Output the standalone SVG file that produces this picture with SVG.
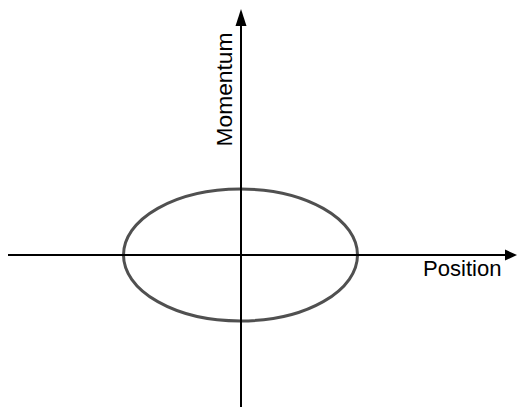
<svg xmlns="http://www.w3.org/2000/svg" width="518" height="407" viewBox="0 0 518 407">
  <style>
    .axis { stroke: #000; stroke-width: 2; fill: none; }
    .head { fill: #000; stroke: none; }
    .curve { stroke: #505050; stroke-width: 3; fill: none; }
    .label { font-family: "Liberation Sans", Arial, sans-serif; font-size: 22px; fill: #000; }
  </style>
  <rect width="518" height="407" fill="#fff"/>
  <g id="ellipse">
    <ellipse class="curve" cx="240.5" cy="255" rx="117" ry="66"/>
  </g>
  <g id="connectors">
    <line class="axis" x1="8" y1="255" x2="506" y2="255"/>
    <polygon class="head" points="517,255 505,249.5 505,260.5"/>
    <line class="axis" x1="241" y1="407" x2="241" y2="24"/>
    <polygon class="head" points="241,9 235.5,26 246.5,26"/>
  </g>
  <g id="momentum-label">
    <text class="label" transform="translate(231.5,146.5) rotate(-90)" textLength="114" lengthAdjust="spacingAndGlyphs">Momentum</text>
  </g>
  <g id="position-label">
    <text class="label" x="423" y="276" textLength="78.5" lengthAdjust="spacingAndGlyphs">Position</text>
  </g>
</svg>
